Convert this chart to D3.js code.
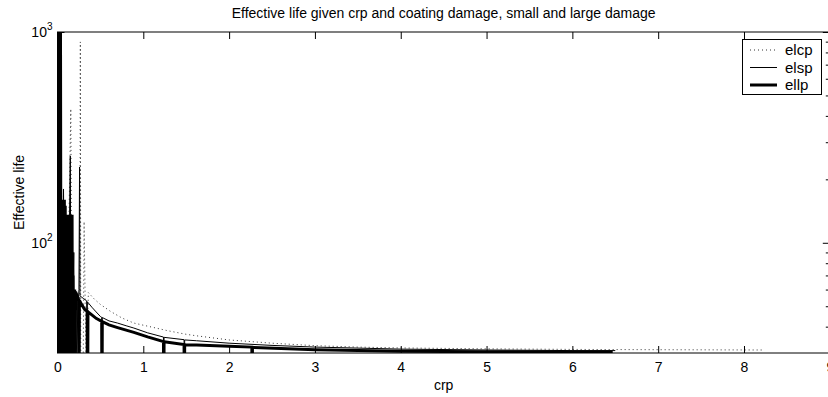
<!DOCTYPE html>
<html><head><meta charset="utf-8">
<script src="https://cdn.jsdelivr.net/npm/d3@7"></script>
<style>
html,body{margin:0;padding:0;background:#fff;}
svg{display:block;font-family:"Liberation Sans",Arial,Helvetica,sans-serif;}
</style></head>
<body><svg id="chart" width="828" height="397"></svg>
<script>
// ---- data ----
const titleText = "Effective life given crp and coating damage, small and large damage";
const xLabel = "crp";
const yLabel = "Effective life";
const xTicks = [0,1,2,3,4,5,6,7,8,9];
const yMajorTicks = [100,1000];
const yMinorTicks = [40,50,60,70,80,90,200,300,400,500,600,700,800,900];
const seriesNames = ["elcp","elsp","ellp"];

const elcpX = [0.002,0.02,0.07,0.1,0.155,0.17,0.26,0.266,0.272,0.298,0.31,0.333,0.36,0.43,0.5,0.62,0.75,0.89,1.1,1.28,1.5,1.62,2,2.5,3,3.5,4,5,6,7,8.22];
const elcpY = [1200,20,169,20,432,20,20,897,20,20,126,25,58,54,51,47.2,44,41.6,39.8,38.3,36.8,36.2,34.6,33.4,32.5,32.0,31.7,31.4,31.2,31.1,31.0];

const elspX = [0.005,0.015,0.03,0.045,0.07,0.09,0.1,0.115,0.149,0.16,0.19,0.2,0.25,0.257,0.262,0.3,0.34,0.343,0.348,0.4,0.45,0.5,0.515,0.518,0.522,0.6,0.7,0.8,0.89,1.05,1.235,1.238,1.242,1.475,1.478,1.482,1.62,2,2.5,3,4,5,6,6.5];
const elspY = [1500,20,800,20,180,20,120,20,258,20,90,20,60,229,56,54.5,53,10,52.5,49.5,47,44.7,44.3,10,44.2,42.6,41.6,40.4,39.4,37.4,35.7,10,35.6,34.7,10,34.6,34.3,33.4,32.6,32.0,31.3,31.0,30.8,30.8];

const ellpX = [0.003,0.01,0.018,0.026,0.034,0.042,0.045,0.05,0.055,0.06,0.065,0.07,0.075,0.08,0.085,0.09,0.095,0.1,0.105,0.11,0.115,0.12,0.125,0.13,0.135,0.14,0.145,0.15,0.155,0.16,0.165,0.17,0.175,0.18,0.185,0.19,0.195,0.2,0.205,0.21,0.215,0.23,0.245,0.25,0.255,0.28,0.32,0.345,0.35,0.355,0.4,0.45,0.515,0.518,0.522,0.6,0.7,0.8,0.89,1.05,1.235,1.238,1.242,1.475,1.478,1.482,1.62,2,2.265,2.268,2.272,3,4,5,6,6.47];
const ellpY = [2000,10,2000,10,2000,10,10,160,10,160,10,160,10,160,10,150,10,85,10,85,10,136,10,136,10,136,10,136,10,136,10,136,10,70,10,60,10,60,10,58,58,56,54,10,53.5,51,48.1,47.5,10,47,45.5,43.8,42.4,10,42.3,40.8,39.6,38.5,37.6,35.8,34.0,10,33.9,32.9,10,32.8,32.7,32.3,32.0,10,31.9,31.1,30.6,30.4,30.3,30.3];

// ---- layout ----
const svg = d3.select("#chart");
const L = 57.5, R = 829.8, T = 32, B = 353;
const x = d3.scaleLinear().domain([0,9]).range([L,R]);
const y = d3.scaleLog().domain([30,1000]).range([B,T]);

svg.append("defs").append("clipPath").attr("id","clip")
  .append("rect").attr("x",L).attr("y",T).attr("width",R-L).attr("height",B-T);

const line = d3.line().x(d=>x(d[0])).y(d=>y(d[1]));
const plot = svg.append("g").attr("clip-path","url(#clip)");

function pairs(xs,ys){return xs.map((v,i)=>[v,ys[i]]);}
const styles = {
  elcp:{stroke:"#333",width:1,dash:"1,3"},
  elsp:{stroke:"#000",width:1,dash:null},
  ellp:{stroke:"#000",width:3,dash:null}
};
const seriesData = {elcp:pairs(elcpX,elcpY), elsp:pairs(elspX,elspY), ellp:pairs(ellpX,ellpY)};

seriesNames.forEach(n=>{
  plot.append("path").datum(seriesData[n])
    .attr("d",line).attr("fill","none")
    .attr("stroke",styles[n].stroke).attr("stroke-width",styles[n].width)
    .attr("stroke-dasharray",styles[n].dash)
    .attr("stroke-linejoin","miter");
});

// ---- axes (MATLAB style, inward ticks, box) ----
const fs = 14;
const gx = svg.append("g").attr("transform",`translate(0,${B})`)
  .call(d3.axisBottom(x).tickValues(xTicks).tickFormat(d3.format("d")).tickSizeInner(-7).tickSizeOuter(0).tickPadding(9));
const gxt = svg.append("g").attr("transform",`translate(0,${T})`)
  .call(d3.axisTop(x).tickValues(xTicks).tickFormat("").tickSizeInner(-7).tickSizeOuter(0));
const gy = svg.append("g").attr("transform",`translate(${L},0)`)
  .call(d3.axisLeft(y).tickValues(yMajorTicks).tickSizeInner(-7).tickSizeOuter(0).tickPadding(10)
    .tickFormat(d=>""+Math.round(Math.log10(d))));
const gym = svg.append("g").attr("transform",`translate(${L},0)`)
  .call(d3.axisLeft(y).tickValues(yMinorTicks).tickFormat("").tickSizeInner(-4).tickSizeOuter(0));
const gyr = svg.append("g").attr("transform",`translate(${R},0)`)
  .call(d3.axisRight(y).tickValues(yMajorTicks).tickFormat("").tickSizeInner(-7).tickSizeOuter(0));
const gyrm = svg.append("g").attr("transform",`translate(${R},0)`)
  .call(d3.axisRight(y).tickValues(yMinorTicks).tickFormat("").tickSizeInner(-4).tickSizeOuter(0));

[gx,gxt,gy,gym,gyr,gyrm].forEach(g=>{
  g.select(".domain").remove();
  g.selectAll("line").attr("stroke","#000");
  g.selectAll("text").attr("font-family",null).attr("font-size",fs).attr("fill","#000");
});
// superscript exponents
gy.selectAll("text").each(function(d){
  const t = d3.select(this); const e = t.text();
  t.text(null).attr("x",-5);
  t.append("tspan").text("10");
  t.append("tspan").attr("font-size",10).attr("dy",-7).text(e);
});

// box
svg.append("rect").attr("x",L).attr("y",T).attr("width",R-L).attr("height",B-T)
  .attr("fill","none").attr("stroke","#000").attr("stroke-width",1);

// labels
svg.append("text").attr("x",(L+R)/2).attr("y",18).attr("text-anchor","middle")
  .attr("font-size",fs).text(titleText);
svg.append("text").attr("x",(L+R)/2).attr("y",390).attr("text-anchor","middle")
  .attr("font-size",fs).text(xLabel);
svg.append("text").attr("transform",`translate(24,${(T+B)/2}) rotate(-90)`)
  .attr("text-anchor","middle").attr("font-size",fs).text(yLabel);

// legend
const lg = svg.append("g");
lg.append("rect").attr("x",742.5).attr("y",39.5).attr("width",79).attr("height",55)
  .attr("fill","#fff").attr("stroke","#000").attr("stroke-width",1);
seriesNames.forEach((n,i)=>{
  const yy = 50 + i*17.5;
  lg.append("line").attr("x1",750).attr("x2",777).attr("y1",yy).attr("y2",yy)
    .attr("stroke",styles[n].stroke).attr("stroke-width",styles[n].width)
    .attr("stroke-dasharray",styles[n].dash);
  lg.append("text").attr("x",785).attr("y",yy+5).attr("font-size",15).text(n);
});
</script></body></html>
